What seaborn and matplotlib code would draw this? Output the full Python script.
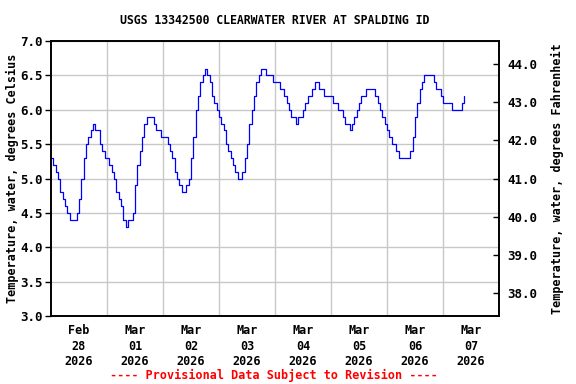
import numpy as np
import pandas as pd
import matplotlib
matplotlib.use("Agg")
import matplotlib.pyplot as plt
import matplotlib.dates as mdates
import seaborn as sns

title = "USGS 13342500 CLEARWATER RIVER AT SPALDING ID"
ylabel_c = "Temperature, water, degrees Celsius"
ylabel_f = "Temperature, water, degrees Fahrenheit"
footer = "---- Provisional Data Subject to Revision ----"
start_time = "2026-02-28 00:00"
x_start = "2026-02-28 00:00"
x_end = "2026-03-08 00:00"
day_labels = ["Feb\n28\n2026", "Mar\n01\n2026", "Mar\n02\n2026", "Mar\n03\n2026",
              "Mar\n04\n2026", "Mar\n05\n2026", "Mar\n06\n2026", "Mar\n07\n2026"]
c_ticks = [3.0, 3.5, 4.0, 4.5, 5.0, 5.5, 6.0, 6.5, 7.0]
f_ticks = [38.0, 39.0, 40.0, 41.0, 42.0, 43.0, 44.0]

# hourly water temperature (deg C)
temp_c = [
    5.3, 5.2, 5.1, 5.0, 4.8, 4.7, 4.6, 4.5, 4.4, 4.4, 4.4, 4.5, 4.7, 5.0, 5.3, 5.5,
    5.6, 5.7, 5.8, 5.7, 5.7, 5.5, 5.4, 5.3, 5.3, 5.2, 5.1, 5.0, 4.8, 4.7, 4.6, 4.4,
    4.3, 4.4, 4.4, 4.5, 4.9, 5.2, 5.4, 5.6, 5.8, 5.9, 5.9, 5.9, 5.8, 5.7, 5.7, 5.6,
    5.6, 5.6, 5.5, 5.4, 5.3, 5.1, 5.0, 4.9, 4.8, 4.8, 4.9, 5.0, 5.3, 5.6, 6.0, 6.2,
    6.4, 6.5, 6.6, 6.5, 6.4, 6.2, 6.1, 6.0, 5.9, 5.8, 5.7, 5.5, 5.4, 5.3, 5.2, 5.1,
    5.0, 5.0, 5.1, 5.3, 5.5, 5.8, 6.0, 6.2, 6.4, 6.5, 6.6, 6.6, 6.5, 6.5, 6.5, 6.4,
    6.4, 6.4, 6.3, 6.3, 6.2, 6.1, 6.0, 5.9, 5.9, 5.8, 5.9, 5.9, 6.0, 6.1, 6.2, 6.2,
    6.3, 6.4, 6.4, 6.3, 6.3, 6.2, 6.2, 6.2, 6.2, 6.1, 6.1, 6.0, 6.0, 5.9, 5.8, 5.8,
    5.7, 5.8, 5.9, 6.0, 6.1, 6.2, 6.2, 6.3, 6.3, 6.3, 6.3, 6.2, 6.1, 6.0, 5.9, 5.8,
    5.7, 5.6, 5.5, 5.5, 5.4, 5.3, 5.3, 5.3, 5.3, 5.3, 5.4, 5.6, 5.9, 6.1, 6.3, 6.4,
    6.5, 6.5, 6.5, 6.5, 6.4, 6.3, 6.3, 6.2, 6.1, 6.1, 6.1, 6.1, 6.0, 6.0, 6.0, 6.0,
    6.1, 6.2,
]

times = pd.date_range(start_time, periods=len(temp_c), freq="h")
df = pd.DataFrame({"time": times, "temp": temp_c})

sns.set_theme(style="white")
plt.rcParams["font.family"] = ["DejaVu Sans Mono"]
plt.rcParams["font.weight"] = "bold"
plt.rcParams["text.color"] = "black"
plt.rcParams["axes.labelcolor"] = "black"
plt.rcParams["xtick.color"] = "black"
plt.rcParams["ytick.color"] = "black"

fig = plt.figure(figsize=(5.76, 3.84), dpi=100)
ax = fig.add_axes([51 / 576, 1 - 316 / 384, 448 / 576, 275 / 384])

sns.lineplot(data=df, x="time", y="temp", ax=ax, color="#0000ff", linewidth=0.9,
             drawstyle="steps-post")

x0 = pd.Timestamp(x_start)
x1 = pd.Timestamp(x_end)
ax.set_xlim(x0, x1)
ax.set_ylim(3.0, 7.0)

# major ticks (labels) at noon, minor ticks (grid) at midnight
noon = [x0 + pd.Timedelta(hours=12 + 24 * i) for i in range(len(day_labels))]
mid = [x0 + pd.Timedelta(days=i) for i in range(1, 8)]
ax.set_xticks(noon)
ax.set_xticklabels(day_labels, fontsize=8.5, fontweight="bold", linespacing=1.25,
                   color="black")
ax.set_xticks(mid, minor=True)
ax.tick_params(axis="x", which="major", length=0, pad=6)
ax.tick_params(axis="x", which="minor", length=0)
ax.grid(True, axis="x", which="minor", color="#c8c8c8", linewidth=1)
ax.grid(False, axis="x", which="major")

ax.set_yticks(c_ticks)
ax.set_yticklabels([f"{v:.1f}" for v in c_ticks], fontsize=9, fontweight="bold",
                   color="black")
ax.grid(True, axis="y", which="major", color="#c8c8c8", linewidth=1)
ax.tick_params(axis="y", which="major", length=4, width=1, direction="out",
               color="black", left=True, pad=2)
ax.set_xlabel("")
ax.set_ylabel(ylabel_c, fontsize=8.5, fontweight="bold", labelpad=1, color="black")

for s in ax.spines.values():
    s.set_color("black")
    s.set_linewidth(1.2)

ax2 = ax.twinx()
ax2.set_ylim(3.0 * 1.8 + 32, 7.0 * 1.8 + 32)
ax2.set_yticks(f_ticks)
ax2.set_yticklabels([f"{v:.1f}" for v in f_ticks], fontsize=9, fontweight="bold",
                    color="black")
ax2.tick_params(axis="y", direction="in", length=4, width=1, color="black", pad=6)
ax2.set_ylabel(ylabel_f, fontsize=8.5, fontweight="bold", labelpad=10, color="black")
ax2.grid(False)
for s in ax2.spines.values():
    s.set_color("black")
    s.set_linewidth(1.2)

fig.text(0.5 * (51 + 499) / 576, 1 - 20 / 384, title, ha="center", va="center",
         fontsize=8.3, fontweight="bold", color="black")
fig.text(274 / 576, 1 - 375 / 384, footer, ha="center", va="center",
         fontsize=8.5, fontweight="bold", color="red")

fig.savefig("out.png", dpi=100)
